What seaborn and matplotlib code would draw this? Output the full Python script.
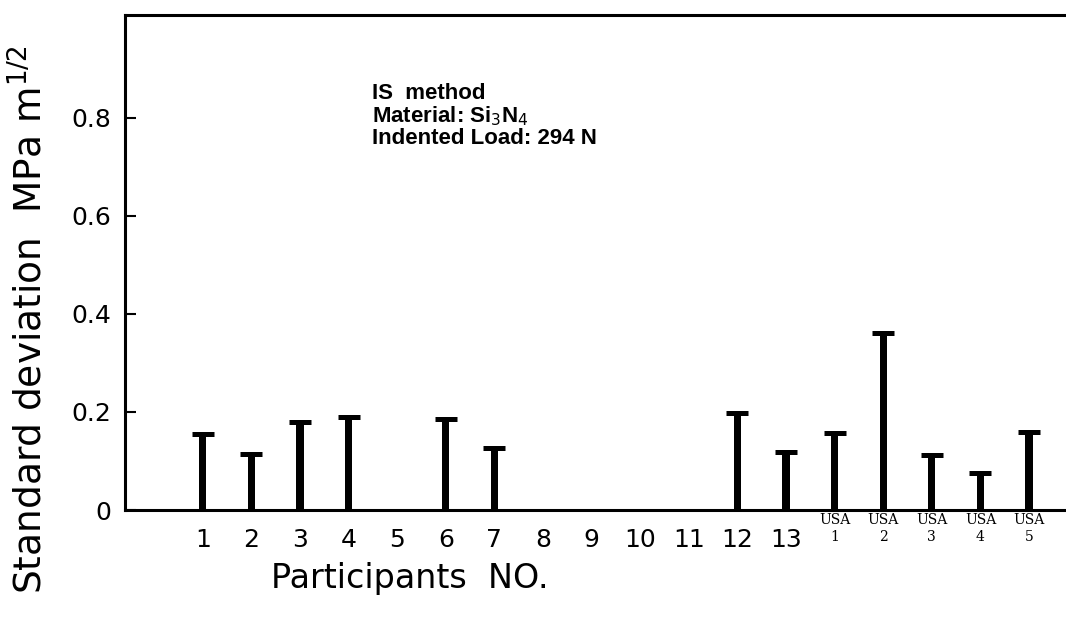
import matplotlib
matplotlib.use("Agg")
import matplotlib.pyplot as plt
from matplotlib.transforms import ScaledTranslation
import seaborn as sns
import pandas as pd

# Participant identifiers and standard deviation of fracture toughness (MPa m^1/2)
participants = ["1", "2", "3", "4", "5", "6", "7", "8", "9", "10", "11", "12", "13",
                "USA\n1", "USA\n2", "USA\n3", "USA\n4", "USA\n5"]
std_dev = [0.155, 0.114, 0.180, 0.190, 0.0, 0.186, 0.127, 0.0, 0.0, 0.0, 0.0,
           0.198, 0.118, 0.158, 0.362, 0.113, 0.076, 0.160]

df = pd.DataFrame({"participant": participants, "sd": std_dev})
df_bars = df[df["sd"] > 0]

sns.set_theme(style="white")
plt.rcParams["font.family"] = ["DejaVu Sans"]

fig = plt.figure(figsize=(10.66, 6.2), dpi=100)
ax = fig.add_axes([125 / 1066, 110 / 620, 1 - 125 / 1066, 495 / 620])

# thick stems
sns.barplot(data=df, x="participant", y="sd", order=participants, color="black",
            width=0.15, saturation=1, ax=ax, edgecolor="black", linewidth=0)
# flat caps on top of each stem
sns.scatterplot(data=df_bars, x="participant", y="sd", marker="_", s=240,
                color="black", linewidth=3.6, ax=ax, zorder=5)

ax.set_xlim(-1.6, 17.76)
ax.set_ylim(0, 1.01)
ax.set_yticks([0, 0.2, 0.4, 0.6, 0.8])
ax.set_yticklabels(["0", "0.2", "0.4", "0.6", "0.8"])

for side in ["left", "top", "bottom"]:
    ax.spines[side].set_visible(True)
    ax.spines[side].set_linewidth(2.2)
    ax.spines[side].set_color("black")
ax.spines["right"].set_visible(False)

ax.tick_params(axis="y", direction="in", length=8, width=1.5, labelsize=18,
               pad=10, left=True, colors="black")
ax.tick_params(axis="x", length=0, labelsize=18, pad=13, colors="black")

ax.set_xlabel("Participants  NO.", fontsize=24, color="black", va="center")
ax.xaxis.set_label_coords((410 - 125) / (1066 - 125), -0.138)
ax.set_ylabel(r"Standard deviation  MPa m$^{\mathregular{1/2}}$", fontsize=27,
              color="black", va="center")
ax.yaxis.set_label_coords((31 - 125) / (1066 - 125), (510 - 320) / 495)

# the USA participants use a smaller typewriter-like face on two lines
offset = ScaledTranslation(0, 11 / 72, fig.dpi_scale_trans)
for lbl in ax.get_xticklabels():
    if lbl.get_text().startswith("USA"):
        lbl.set_fontfamily("DejaVu Serif")
        lbl.set_fontsize(10)
        lbl.set_linespacing(1.25)
        lbl.set_transform(lbl.get_transform() + offset)

ax.text(0.2625, 0.862, "IS  method\nMaterial: Si$_3$N$_4$\nIndented Load: 294 N",
        transform=ax.transAxes, fontsize=16, fontweight="bold",
        family="Liberation Sans", va="top", ha="left", linespacing=1.0,
        color="black")

fig.savefig("out.png", dpi=100, facecolor="white")
